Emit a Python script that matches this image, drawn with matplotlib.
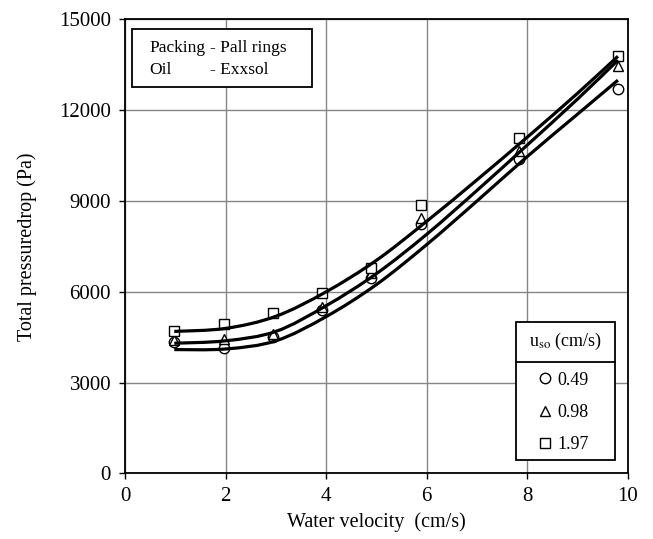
import numpy as np
import matplotlib.pyplot as plt
from matplotlib.patches import Rectangle, PathPatch
from matplotlib.path import Path

plt.rcParams['font.family'] = 'Liberation Serif'
plt.rcParams['mathtext.fontset'] = 'stix'

water_vel = [0.98, 1.96, 2.94, 3.92, 4.90, 5.88, 7.84, 9.80]
dp_049 = [4330, 4140, 4500, 5400, 6450, 8250, 10370, 12700]
dp_098 = [4420, 4430, 4590, 5510, 6620, 8450, 10650, 13450]
dp_197 = [4700, 4950, 5290, 5950, 6780, 8850, 11080, 13780]

# Fitted trend curves at these velocities
curve_x = [0.98, 2, 3, 4, 5, 6, 7, 8, 9, 9.8]
curve_049 = [4090, 4110, 4380, 5180, 6240, 7560, 9000, 10470, 11870, 12990]
curve_098 = [4300, 4380, 4690, 5540, 6600, 7900, 9350, 10850, 12370, 13650]
curve_197 = [4690, 4790, 5190, 6000, 7040, 8330, 9700, 11110, 12560, 13780]

series = [("0.49", "o", dp_049, curve_049),
          ("0.98", "^", dp_098, curve_098),
          ("1.97", "s", dp_197, curve_197)]


def smooth_path(xs, ys):
    # Catmull-Rom through the points, as Bezier segments (like Excel's smoothed line)
    p = np.column_stack([xs, ys]).astype(float)
    ext = np.vstack([p[0], p, p[-1]])
    verts = [p[0]]
    codes = [Path.MOVETO]
    for i in range(1, len(ext) - 2):
        c1 = ext[i] + (ext[i + 1] - ext[i - 1]) / 6
        c2 = ext[i + 1] - (ext[i + 2] - ext[i]) / 6
        verts += [c1, c2, ext[i + 1]]
        codes += [Path.CURVE4] * 3
    return Path(verts, codes)


fig = plt.figure(figsize=(6.53, 5.39), dpi=100)
ax = fig.add_axes([0.1914, 0.1217, 0.7703, 0.8425])

for label, m, y, cy in series:
    ax.add_patch(PathPatch(smooth_path(curve_x, cy), fill=False, edgecolor="black",
                           lw=2.3, zorder=3))
    ax.plot(water_vel, y, linestyle="none", marker=m, markersize=7.5, markerfacecolor="white",
            markeredgecolor="black", markeredgewidth=1.0, label=label, zorder=2)

ax.set_xlim(0, 10)
ax.set_ylim(0, 15000)
ax.set_xticks(range(0, 11, 2))
ax.set_yticks(range(0, 15001, 3000))
ax.grid(True, color="#858585", lw=1.0)
ax.set_axisbelow(True)
for s in ax.spines.values():
    s.set_linewidth(1.3)
ax.tick_params(direction="out", length=4, width=1, labelsize=15, pad=6)
ax.set_xlabel("Water velocity  (cm/s)", fontsize=14.5, labelpad=4)
ax.set_ylabel("Total pressuredrop (Pa)", fontsize=14.5, labelpad=16)

# info box
ax.add_patch(Rectangle((0.0139, 0.851), 0.358, 0.128, transform=ax.transAxes,
                       facecolor="white", edgecolor="black", lw=1.3, zorder=5))
ax.text(0.048, 0.936, "Packing", transform=ax.transAxes, fontsize=12.5, va="center", zorder=6)
ax.text(0.169, 0.936, "- Pall rings", transform=ax.transAxes, fontsize=12.5, va="center", zorder=6)
ax.text(0.048, 0.889, "Oil", transform=ax.transAxes, fontsize=12.5, va="center", zorder=6)
ax.text(0.169, 0.889, "- Exxsol", transform=ax.transAxes, fontsize=12.5, va="center", zorder=6)

# legend box
ax.add_patch(Rectangle((0.777, 0.0295), 0.197, 0.3035, transform=ax.transAxes,
                       facecolor="white", edgecolor="black", lw=1.3, zorder=5))
ax.plot([0.777, 0.974], [0.246, 0.246], transform=ax.transAxes, color="black", lw=1.3, zorder=6)
ax.text(0.8755, 0.290, r"u$_{\mathrm{so}}$ (cm/s)", transform=ax.transAxes, fontsize=13,
        ha="center", va="center", zorder=6)
leg = ax.legend(loc="upper center", bbox_to_anchor=(0.8715, 0.252), frameon=False,
                fontsize=13, handlelength=0.8, handletextpad=0.3, labelspacing=0.85,
                borderpad=0.2)
leg.set_zorder(7)

fig.savefig("out.png", dpi=100)
